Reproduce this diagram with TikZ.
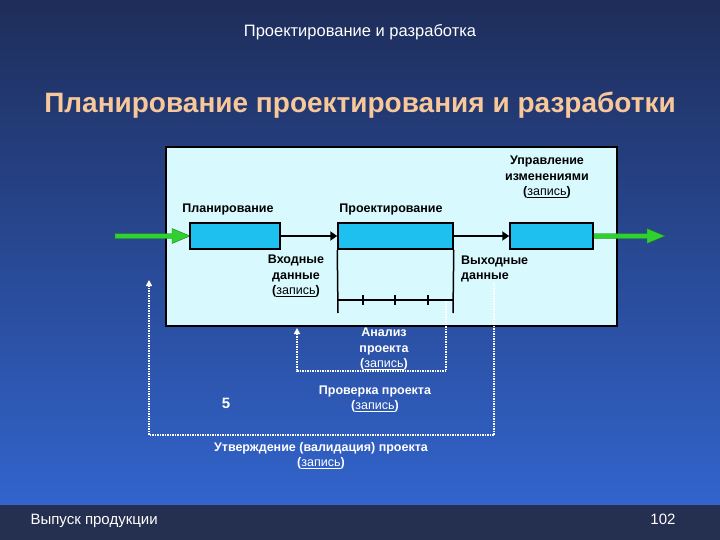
\documentclass[tikz,border=0pt]{standalone}
\usepackage{fontspec}
\setmainfont{Liberation Sans}
\usetikzlibrary{arrows.meta}
\definecolor{bgtop}{HTML}{1E2D5A}
\definecolor{bgbot}{HTML}{3264CC}
\definecolor{band}{HTML}{253050}
\definecolor{panel}{HTML}{D8FAFF}
\definecolor{boxc}{HTML}{1EC0F0}
\definecolor{peach}{HTML}{F8C89A}
\definecolor{gr}{HTML}{30D030}
\tikzset{
 lbl/.style={font=\bfseries\fontsize{12.5}{15.5}\selectfont, align=center, text=black, inner sep=0},
 wl/.style={lbl, text=white},
 proc/.style={draw=black, line width=1.5pt, fill=boxc},
 flow/.style={line width=2.5pt, -{Triangle[length=7pt,width=9pt]}},
 big/.style={draw=gr!60!black, fill=gr, line width=0.4pt},
 loop/.style={white, line width=1.5pt, dash pattern=on 1.5pt off 1pt, -{Triangle[length=6pt,width=6pt]}},
}
\newcommand{\zap}{(\underline{\mdseries запись})}
\begin{document}
\begin{tikzpicture}[x=1pt,y=-1pt]
\useasboundingbox (0,0) rectangle (720,540);
\shade[top color=bgtop, bottom color=bgbot] (0,0) rectangle (720,505);
\fill[band] (0,505) rectangle (720,540);
\node[text=white, font=\fontsize{16.5}{18}\selectfont] (t1) at (360,32) {Проектирование и разработка};
\node[text=peach, font=\bfseries\fontsize{28}{32}\selectfont] (t2) at (360,105) {Планирование проектирования и разработки};
\node[draw=black, line width=1.5pt, fill=panel, minimum width=451pt, minimum height=179pt, inner sep=0] (panel) at (391.5,236.5) {};
% green arrows
\draw[big] (115,233.5) -- (172,233.5) -- (172,228.5) -- (190,236) -- (172,243.5) -- (172,238.5) -- (115,238.5) -- cycle;
\draw[big] (593,233.5) -- (647,233.5) -- (647,228.5) -- (665,236) -- (647,243.5) -- (647,238.5) -- (593,238.5) -- cycle;
\node[proc, minimum width=90pt, minimum height=26pt, inner sep=0] (b1) at (235,236) {};
\node[proc, minimum width=115pt, minimum height=26pt, inner sep=0] (b2) at (395.5,236) {};
\node[proc, minimum width=83pt, minimum height=26pt, inner sep=0] (b3) at (551.5,236) {};
\draw[flow] (b1.east) -- (b2.west);
\draw[flow] (b2.east) -- (b3.west);
\coordinate (l1) at (338,313); \coordinate (r1) at (453,313);
\draw[line width=1.5pt] (b2.south west) -- (l1) (b2.south east) -- (r1);
\draw[line width=1.5pt] (338,300) -- (453,300);
\foreach \x in {363,395,428} \draw[line width=1.5pt] (\x,295) -- (\x,305);
% loops
\coordinate (a1) at (446,301); \coordinate (a2) at (446,371); \coordinate (a3) at (297,371); \coordinate (a4) at (297,328);
\draw[loop] (a1) -- (a2) -- (a3) -- (a4);
\coordinate (c1) at (494,283); \coordinate (c2) at (494,435); \coordinate (c3) at (149,435); \coordinate (c4) at (149,280);
\draw[loop] (c1) -- (c2) -- (c3) -- (c4);
% labels
\node[lbl] (p1) at (228,209) {Планирование};
\node[lbl] (p2) at (391,209) {Проектирование};
\node[lbl] (p3) at (547,177) {Управление\\изменениями\\\zap};
\node[lbl] (p4) at (296,276) {Входные\\данные\\\zap};
\node[lbl, align=left, anchor=west] (p5) at (461,269) {Выходные\\данные};
\node[wl] (p6) at (384,349) {Анализ\\проекта\\\zap};
\node[wl] (p7) at (375,399) {Проверка проекта\\\zap};
\node[wl] (p8) at (321,456) {Утверждение (валидация) проекта\\\zap};
\node[text=white, font=\bfseries\fontsize{15}{17}\selectfont] (five) at (226,403) {5};
\node[text=white, font=\fontsize{15}{17}\selectfont, anchor=west] (f1) at (27,521) {Выпуск продукции};
\node[text=white, font=\fontsize{15}{17}\selectfont] (f2) at (663,519) {102};
\end{tikzpicture}
\end{document}
